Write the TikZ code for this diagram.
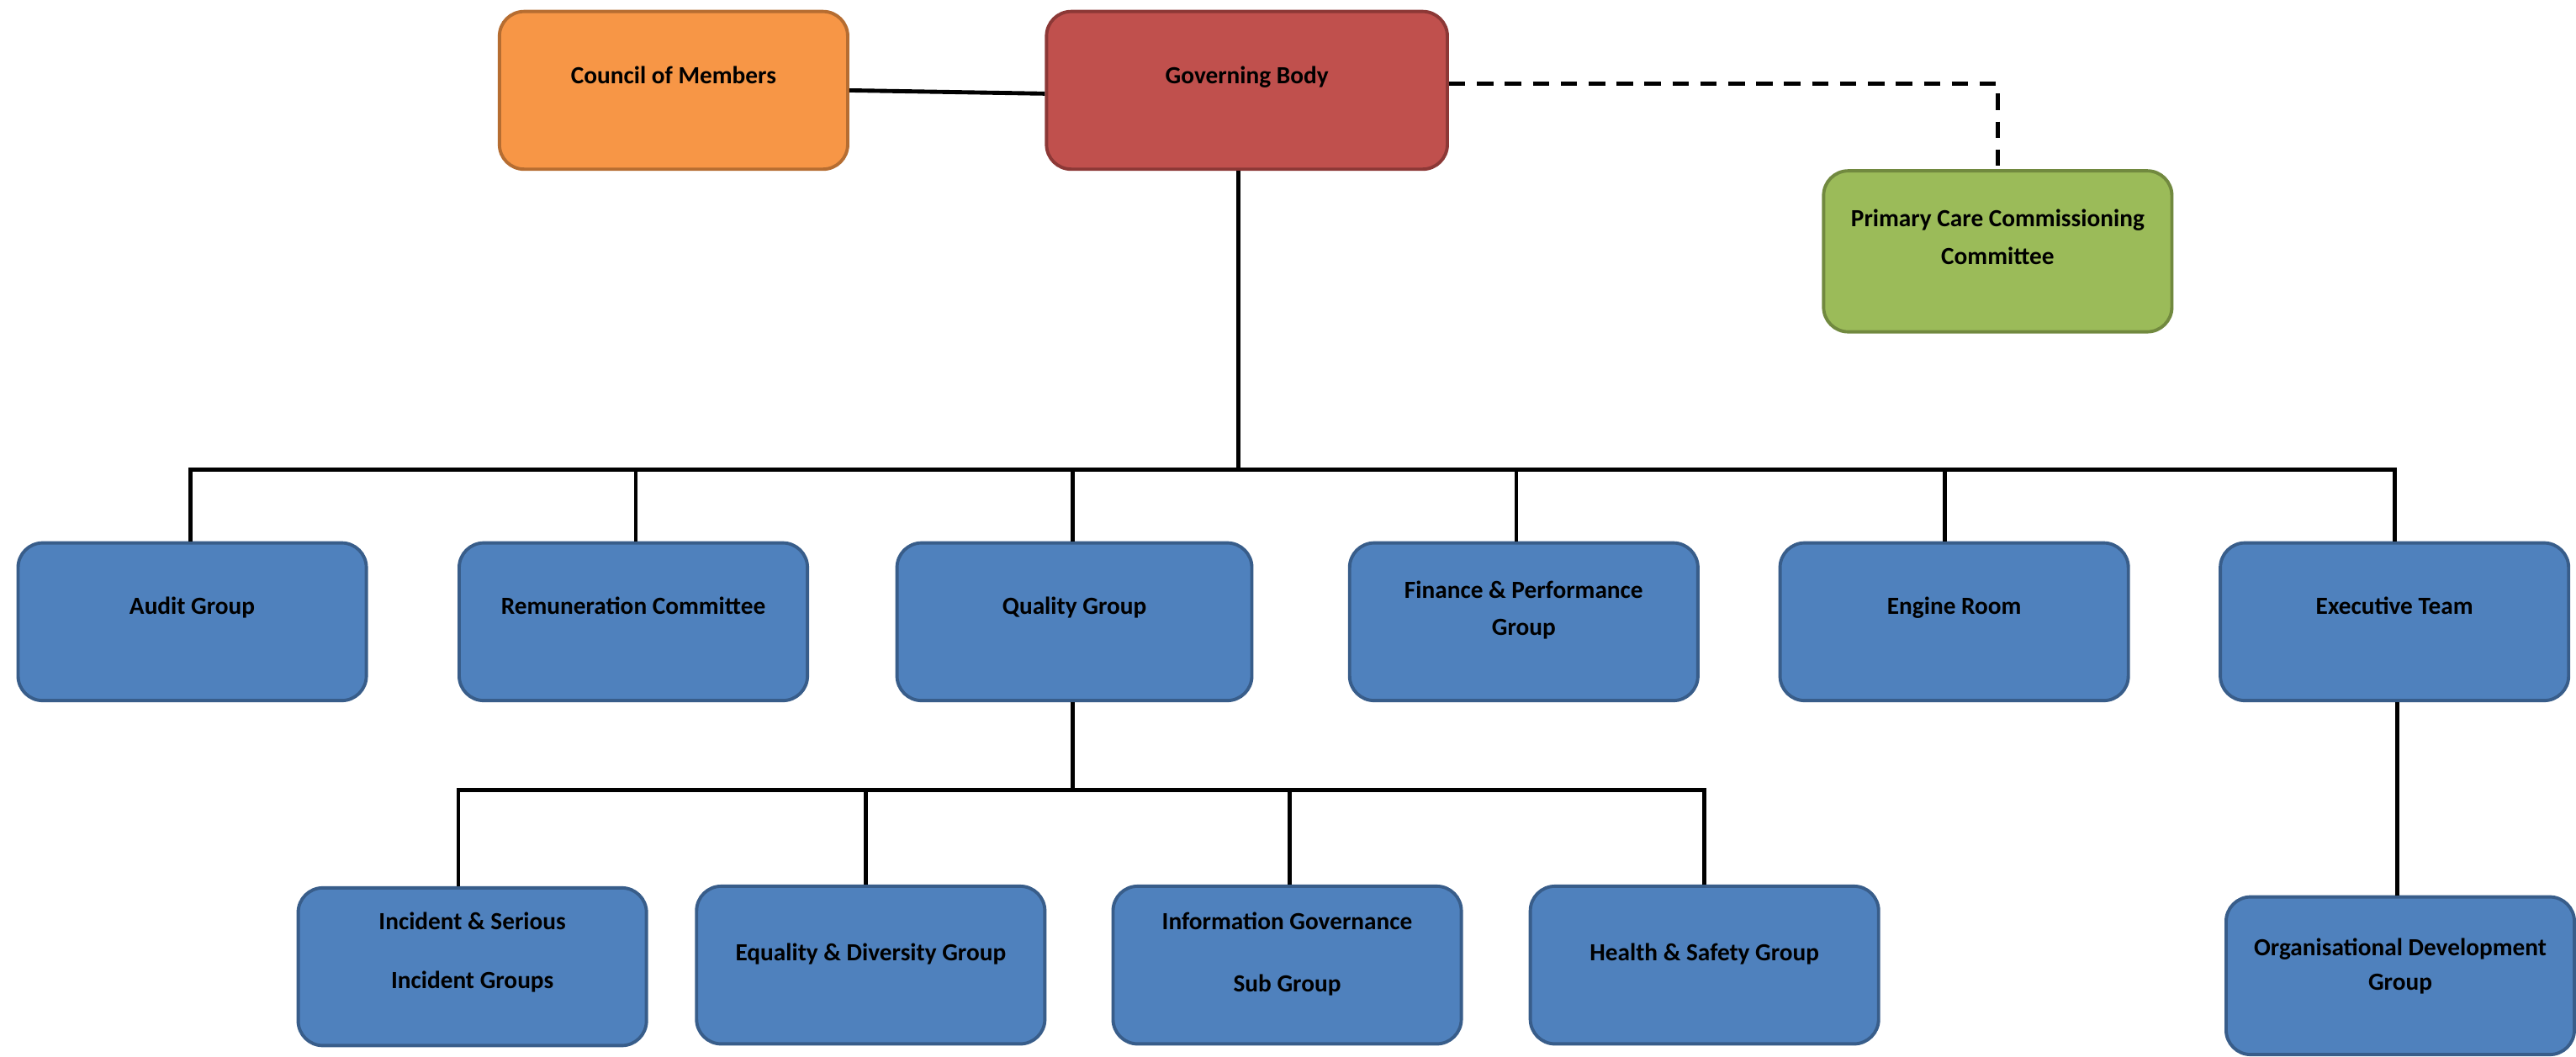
\documentclass[tikz,border=0pt]{standalone}
\usepackage{fontspec}
\setmainfont{Carlito}
\definecolor{orfill}{HTML}{F79646}
\definecolor{ordraw}{HTML}{B66D31}
\definecolor{rdfill}{HTML}{C0504D}
\definecolor{rddraw}{HTML}{8C3836}
\definecolor{grfill}{HTML}{9BBB59}
\definecolor{grdraw}{HTML}{71893F}
\definecolor{blfill}{HTML}{4F81BD}
\definecolor{bldraw}{HTML}{385D8A}
\begin{document}
\begin{tikzpicture}[x=1pt,y=-1pt,
  box/.style={rectangle, rounded corners=15pt, line width=2pt, inner sep=0pt,
    minimum width=212pt, minimum height=96pt},
  orbox/.style={box, fill=orfill, draw=ordraw},
  rdbox/.style={box, fill=rdfill, draw=rddraw},
  grbox/.style={box, fill=grfill, draw=grdraw},
  blbox/.style={box, fill=blfill, draw=bldraw},
  lbl/.style={anchor=base, inner sep=0pt, font=\fontsize{15}{18}\selectfont\bfseries, text=black},
  conn/.style={draw=black, line width=2.5pt},
  dconn/.style={draw=black, line width=2.5pt, dash pattern=on 10pt off 7pt}]
\useasboundingbox (0,0) rectangle (1568,643);
\fill[white] (0,0) rectangle (1568,643);

% top row
\node[orbox] (council) at (410,55) {};
\node[lbl] (council-t) at (410,51) {Council of Members};
\node[rdbox, minimum width=244pt] (gb) at (759,55) {};
\node[lbl] (gb-t) at (759,51) {Governing Body};
\node[grbox, minimum height=98pt] (pcc) at (1216,153) {};
\node[lbl] (pcc-t1) at (1216,138) {Primary Care Commissioning};
\node[lbl] (pcc-t2) at (1216,161) {Committee};

% second row
\node[blbox] (audit) at (117,378.5) {};
\node[lbl] (audit-t) at (117,374) {Audit Group};
\node[blbox] (remun) at (385.5,378.5) {};
\node[lbl] (remun-t) at (385.5,374) {Remuneration Committee};
\node[blbox, minimum width=216pt] (quality) at (654,378.5) {};
\node[lbl] (quality-t) at (654,374) {Quality Group};
\node[blbox] (fin) at (927.5,378.5) {};
\node[lbl] (fin-t1) at (927.5,364) {Finance \& Performance};
\node[lbl] (fin-t2) at (927.5,387) {Group};
\node[blbox] (engine) at (1189.5,378.5) {};
\node[lbl] (engine-t) at (1189.5,374) {Engine Room};
\node[blbox] (exec) at (1457.5,378.5) {};
\node[lbl] (exec-t) at (1457.5,374) {Executive Team};

% third row
\node[blbox] (inc) at (287.5,588.5) {};
\node[lbl] (inc-t1) at (287.5,566) {Incident \& Serious};
\node[lbl] (inc-t2) at (287.5,602) {Incident Groups};
\node[blbox] (eq) at (530,587.5) {};
\node[lbl] (eq-t) at (530,585) {Equality \& Diversity Group};
\node[blbox] (info) at (783.5,587.5) {};
\node[lbl] (info-t1) at (783.5,566) {Information Governance};
\node[lbl] (info-t2) at (783.5,604) {Sub Group};
\node[blbox] (hs) at (1037.5,587.5) {};
\node[lbl] (hs-t) at (1037.5,585) {Health \& Safety Group};
\node[blbox] (org) at (1461,594) {};
\node[lbl] (org-t1) at (1461,582) {Organisational Development};
\node[lbl] (org-t2) at (1461,603) {Group};

% connectors
\draw[conn] (council.east) -- ([yshift=-2pt]gb.west);
\draw[dconn] ([yshift=4pt]gb.east) -| (pcc.north);

\coordinate (j1) at (754,286);
\draw[conn] ([xshift=-5pt]gb.south) -- (j1);
\draw[conn] ([xshift=-1pt]audit.north) -- ([xshift=-1pt]audit.north |- j1) -- (exec.north |- j1) -- (exec.north);
\draw[conn] ([xshift=1.5pt]remun.north) -- ([xshift=1.5pt]remun.north |- j1);
\draw[conn] ([xshift=-1pt]quality.north) -- ([xshift=-1pt]quality.north |- j1);
\draw[conn] ([xshift=-4.5pt]fin.north) -- ([xshift=-4.5pt]fin.north |- j1);
\draw[conn] ([xshift=-5.5pt]engine.north) -- ([xshift=-5.5pt]engine.north |- j1);

\coordinate (j2) at (653,481);
\draw[conn] ([xshift=-1pt]quality.south) -- (j2);
\draw[conn] ([xshift=-8.5pt]inc.north) -- ([xshift=-8.5pt]inc.north |- j2) -- (hs.north |- j2) -- (hs.north);
\draw[conn] ([xshift=-3pt]eq.north) -- ([xshift=-3pt]eq.north |- j2);
\draw[conn] ([xshift=1.5pt]info.north) -- ([xshift=1.5pt]info.north |- j2);

\draw[conn] ([xshift=1.5pt]exec.south) -- ([xshift=1.5pt]exec.south |- org.north);
\end{tikzpicture}
\end{document}
